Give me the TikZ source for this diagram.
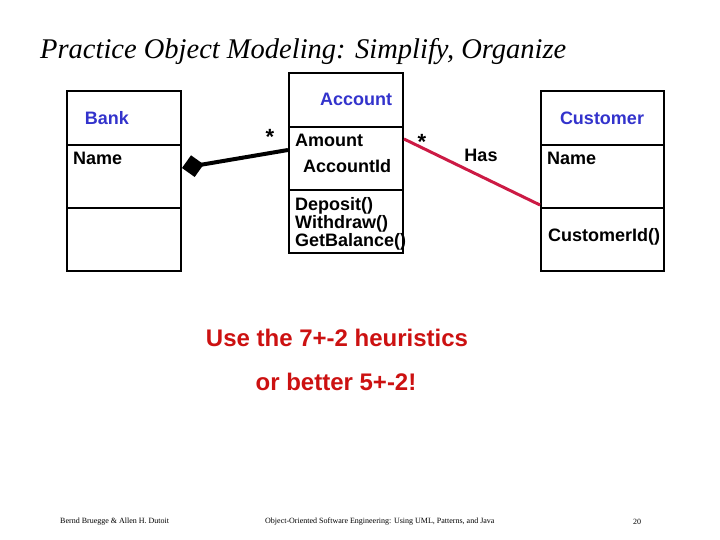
\documentclass[tikz,border=0pt]{standalone}
\usepackage{fontspec}
\setmainfont{Liberation Serif}
\newfontfamily\arialfont{Liberation Sans}
\usetikzlibrary{arrows.meta,positioning}
\definecolor{umlblue}{HTML}{3333CC}
\definecolor{umlred}{HTML}{CC1111}
\definecolor{assocred}{HTML}{CC1A44}
\tikzset{
  cls/.style   = {rectangle, draw=black, line width=2bp, minimum height=180bp,
                  inner sep=0pt},
  sep/.style   = {draw=black, line width=2bp},
  cname/.style = {font=\arialfont\bfseries\fontsize{18bp}{20bp}\selectfont,
                  text=umlblue, inner sep=0pt},
  attr/.style  = {font=\arialfont\bfseries\fontsize{18bp}{20bp}\selectfont,
                  anchor=west, inner sep=0pt},
  mult/.style  = {font=\arialfont\bfseries\fontsize{22bp}{22bp}\selectfont, inner sep=0pt},
  comp/.style  = {{Diamond[length=22bp,width=22bp]}-, draw=black, line width=4bp},
  assoc/.style = {draw=assocred, line width=3bp},
  hint/.style  = {font=\arialfont\bfseries\fontsize{24bp}{26bp}\selectfont,
                  text=umlred, inner sep=0pt},
  foot/.style  = {font=\fontsize{8bp}{9bp}\selectfont, inner sep=0pt},
}
\begin{document}
\begin{tikzpicture}[x=1bp,y=-1bp]
  \useasboundingbox (0,0) rectangle (720,540);
  % --- title
  \node[anchor=west, inner sep=0pt, font=\itshape\fontsize{28.5bp}{30bp}\selectfont]
    (title) at (40,52) {Practice Object Modeling: Simplify, Organize};

  % --- classes
  \node[cls, minimum width=114bp] (bank) at (124,181) {};
  \draw[sep] (bank.west |- 0,145) -- (bank.east |- 0,145);
  \draw[sep] (bank.west |- 0,208) -- (bank.east |- 0,208);
  \node[cname] (bankname) at (107,118) {Bank};
  \node[attr] (bankattr) at (73,158) {Name};

  \node[cls, minimum width=114bp] (account) at (346,163) {};
  \draw[sep] (account.west |- 0,127) -- (account.east |- 0,127);
  \draw[sep] (account.west |- 0,190) -- (account.east |- 0,190);
  \node[cname] (accname) at (356,99) {Account};
  \node[attr] (amount) at (295,140) {Amount};
  \node[attr] (accid) at (303,166) {AccountId};
  \node[attr] (deposit) at (295,206) {Deposit()};
  \node[attr] (withdraw) at (295,224) {Withdraw()};
  \node[attr] (balance) at (295,242) {GetBalance()};

  \node[cls, minimum width=123bp] (customer) at (602.5,181) {};
  \draw[sep] (customer.west |- 0,145) -- (customer.east |- 0,145);
  \draw[sep] (customer.west |- 0,208) -- (customer.east |- 0,208);
  \node[cname] (custname) at (602,118) {Customer};
  \node[attr] (custattr) at (547,158) {Name};
  \node[attr] (custid) at (548,237) {CustomerId()};

  % --- associations
  \draw[comp] ([yshift=13bp]bank.east) -- ([yshift=13bp]account.west);
  \node[mult] (m1) at (270,137) {*};
  \draw[assoc] ([yshift=24bp]account.east) -- ([yshift=-24bp]customer.west);
  \node[mult] (m2) at (422,142) {*};
  \node[attr, anchor=center] (has) at (481,155) {Has};

  % --- hints
  \node[hint] (hint1) at (337,338) {Use the 7+-2 heuristics};
  \node[hint] (hint2) at (336,382) {or better 5+-2!};

  % --- footer
  \node[foot, anchor=west] (authors) at (60,522) {Bernd Bruegge \& Allen H. Dutoit};
  \node[foot, anchor=west] (book) at (265,522)
    {Object-Oriented Software Engineering: Using UML, Patterns, and Java};
  \node[foot] (page) at (637,522) {20};
\end{tikzpicture}
\end{document}
